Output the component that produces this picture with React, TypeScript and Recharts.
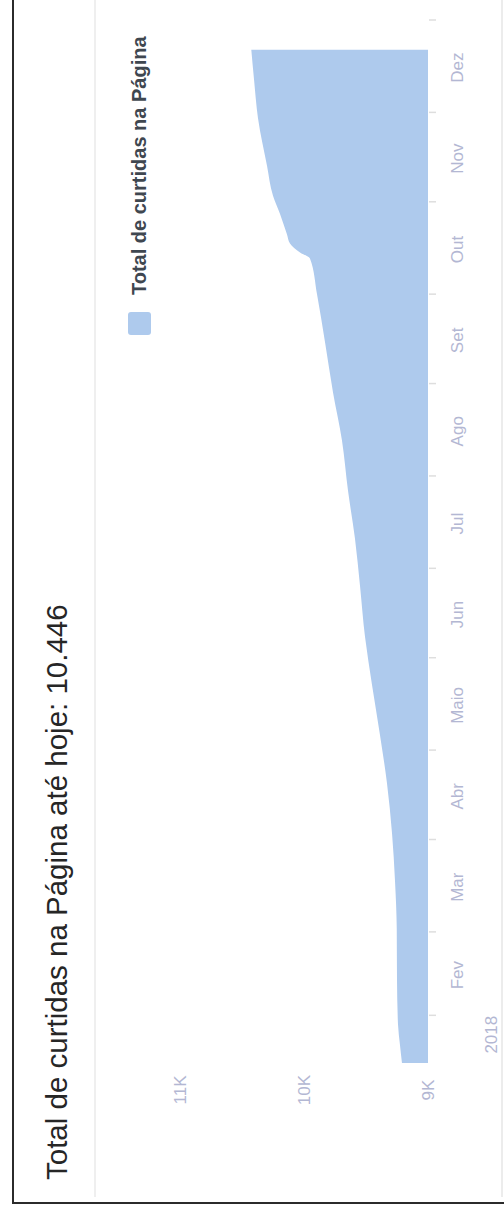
import React from 'react';
import { AreaChart, Area, XAxis, YAxis, Legend } from 'recharts';

// Chart is drawn in its own (landscape) frame and then rotated -90deg to fit the page.
const FRAME_W = 1211;
const FRAME_H = 504;

const TITLE = 'Total de curtidas na Página até hoje: 10.446';
const SERIES_NAME = 'Total de curtidas na Página';

// day of year 2018 (0 = 1 Jan)
const days = [15, 21, 28, 43, 60, 76, 92, 109, 125, 142, 158, 175, 191, 207, 224, 240, 257, 273, 285, 287, 290, 293, 300, 306, 316, 332, 345, 355];
const likes = [9210, 9226, 9242, 9250, 9252, 9266, 9290, 9331, 9387, 9452, 9508, 9548, 9589, 9645, 9694, 9766, 9831, 9895, 9952, 10032, 10113, 10137, 10194, 10250, 10298, 10371, 10403, 10425];

const monthStarts = [31, 59, 90, 120, 151, 181, 212, 243, 273, 304, 334, 365];
const monthMids = [44.5, 74, 104.5, 135, 165.5, 196, 227, 257.5, 288, 318.5, 349];
const monthLabels = ['Fev', 'Mar', 'Abr', 'Maio', 'Jun', 'Jul', 'Ago', 'Set', 'Out', 'Nov', 'Dez'];
const yearTick = 24.5;
const yearLabel = '2018';

const yTicks = [9000, 10000, 11000];
const yTickLabels = ['9K', '10K', '11K'];

const data = days.map((d, i) => ({ day: d, likes: likes[i] }));
const xTicks = [...monthStarts, ...monthMids, yearTick].sort((a, b) => a - b);

const AREA_COLOR = '#aecaed';
const AXIS_TEXT = '#b3b7d3';

const XTick = (props: any) => {
  const { x, y, payload } = props;
  const v = payload.value;
  if (monthStarts.includes(v)) {
    return <line x1={x} x2={x} y1={y + 1} y2={y + 8} stroke="#dedede" strokeWidth={1.5} />;
  }
  if (v === yearTick) {
    return (
      <text x={x} y={y + 69} textAnchor="middle" fontSize={17} fill={AXIS_TEXT}>
        {yearLabel}
      </text>
    );
  }
  const idx = monthMids.indexOf(v);
  return (
    <text x={x} y={y + 35} textAnchor="middle" fontSize={17} fill={AXIS_TEXT}>
      {monthLabels[idx]}
    </text>
  );
};

const YTick = (props: any) => {
  const { x, y, payload } = props;
  const idx = yTicks.indexOf(payload.value);
  return (
    <text x={x} y={y} textAnchor="middle" dominantBaseline="central" fontSize={17} fill={AXIS_TEXT}>
      {yTickLabels[idx]}
    </text>
  );
};

const LegendContent = (props: any) => {
  const p = (props.payload && props.payload[0]) || { value: SERIES_NAME, color: AREA_COLOR };
  return (
    <div style={{ display: 'flex', alignItems: 'center', whiteSpace: 'nowrap' }}>
      <div style={{ width: 23, height: 23, borderRadius: 3, background: AREA_COLOR, marginRight: 17 }} />
      <span style={{ fontSize: 20, fontWeight: 'bold', color: '#3f4750' }}>{p.value}</span>
    </div>
  );
};

export default function App() {
  return (
    <div style={{ position: 'absolute', left: 0, top: 0, width: 504, height: 1211, overflow: 'hidden', background: '#fff' }}>
      <div
        style={{
          position: 'absolute',
          left: 0,
          top: 0,
          width: FRAME_W,
          height: FRAME_H,
          transformOrigin: '0 0',
          transform: `translate(0px, ${FRAME_W}px) rotate(-90deg)`,
          fontFamily: '"Liberation Sans", Arial, Helvetica, sans-serif',
        }}
      >
        {/* outer black frame */}
        <div style={{ position: 'absolute', left: 7, top: 12, width: FRAME_W + 50, height: FRAME_H + 50, borderLeft: '2.5px solid #2b2b2b', borderTop: '2.5px solid #2b2b2b', boxSizing: 'border-box' }} />
        {/* light card lines */}
        <div style={{ position: 'absolute', left: 14, top: 94, width: FRAME_W, height: 2, background: '#efefef' }} />
        <div style={{ position: 'absolute', left: 14, top: 501, width: FRAME_W, height: 2, background: '#ececec' }} />
        {/* title */}
        <div style={{ position: 'absolute', left: 31, top: 41.5, fontSize: 29.5, lineHeight: 1, color: '#262626', whiteSpace: 'nowrap' }}>
          {TITLE}
        </div>
        <div style={{ position: 'absolute', left: 0, top: 0 }}>
          <AreaChart width={FRAME_W} height={FRAME_H} data={data} margin={{ top: 180, right: 20, bottom: 16, left: 0 }}>
            <XAxis
              dataKey="day"
              type="number"
              domain={[15, 365]}
              allowDataOverflow
              ticks={xTicks}
              interval={0}
              tick={<XTick />}
              tickLine={false}
              axisLine={false}
              tickSize={0}
              tickMargin={0}
              height={60}
            />
            <YAxis
              type="number"
              domain={[9000, 11000]}
              ticks={yTicks}
              interval={0}
              width={125}
              axisLine={false}
              tickLine={false}
              tickSize={0}
              tickMargin={27}
              tick={<YTick />}
            />
            <Legend
              layout="horizontal"
              verticalAlign="middle"
              align="left"
              wrapperStyle={{ top: 128, left: 876, width: 'auto' }}
              content={<LegendContent />}
            />
            <Area
              dataKey="likes"
              name={SERIES_NAME}
              type="monotone"
              fill={AREA_COLOR}
              fillOpacity={1}
              stroke="none"
              isAnimationActive={false}
            />
          </AreaChart>
        </div>
      </div>
    </div>
  );
}
